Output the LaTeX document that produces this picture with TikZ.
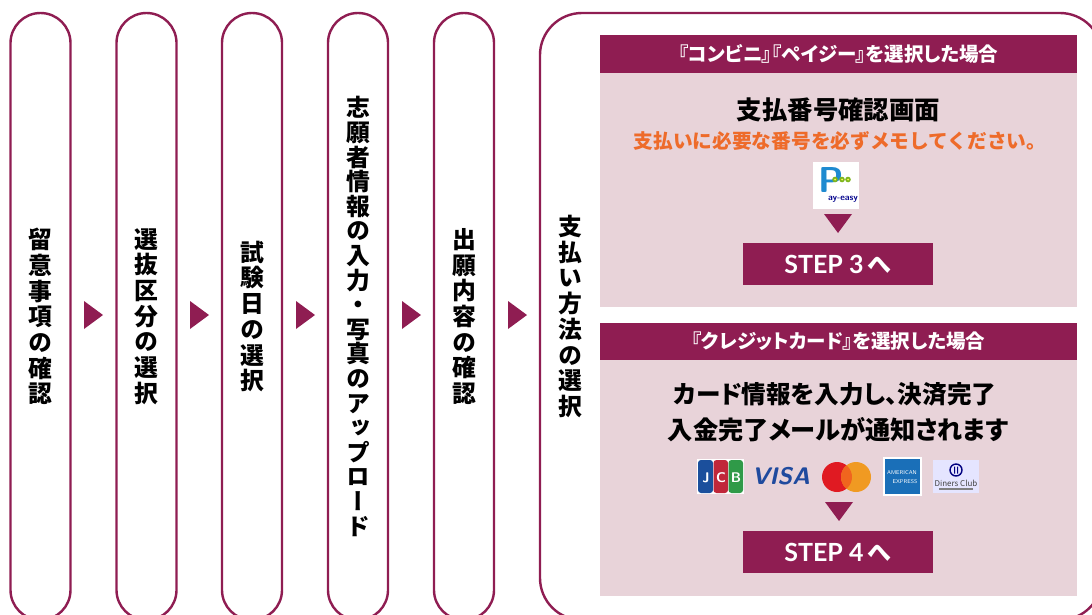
\documentclass[tikz,border=0pt]{standalone}
\usepackage{fontspec}
\setmainfont{Noto Sans CJK JP}
\newfontfamily\vfont[RawFeature={+vert}]{Noto Sans CJK JP}
\newfontfamily\pfont[RawFeature={+palt}]{Noto Sans CJK JP}
\newfontfamily\latofont{Lato}
\definecolor{wine}{HTML}{8F1D52}
\definecolor{blush}{HTML}{E8D3D9}
\definecolor{tangerine}{HTML}{EE6B2A}
\definecolor{visablue}{HTML}{1F4A9E}
\definecolor{amexblue}{HTML}{1A6FB8}
\definecolor{mcred}{HTML}{E01A22}
\definecolor{mcorange}{HTML}{F09A22}
\definecolor{mcmix}{HTML}{F0651E}
\definecolor{jcbblue}{HTML}{1B4F9C}
\definecolor{jcbred}{HTML}{C0273A}
\definecolor{jcbgreen}{HTML}{2F9A48}
\definecolor{peblue}{HTML}{1E8AD0}
\definecolor{pegreen}{HTML}{7DB51E}
\newcommand{\stackfont}[1]{\fontsize{23.8}{#1}\selectfont\vfont\bfseries}
\tikzset{
 x=1pt,y=-1pt,
 pill/.style={draw=wine,line width=2.4pt,fill=white,rounded corners=30pt,minimum width=60pt,minimum height=607pt,inner sep=0pt,align=center,anchor=center,font=\stackfont{25.7}},
 flowarrow/.style={fill=wine},
 head/.style={fill=wine,text=white,minimum width=477pt,inner sep=0pt,font=\fontsize{19.5}{19.5}\selectfont\pfont\bfseries},
 body/.style={fill=blush,minimum width=477pt,inner sep=0pt},
 stepbtn/.style={fill=wine,text=white,minimum width=190pt,minimum height=42pt,inner sep=0pt},
 title/.style={font=\fontsize{25.2}{25.2}\selectfont\pfont\bfseries,text=black,inner sep=0pt},
 jcbtext/.style={text=white,font=\fontsize{14}{14}\selectfont\bfseries\sffamily,inner sep=0pt},
 amextext/.style={text=white,font=\fontsize{5.5}{5.5}\selectfont\sffamily,inner sep=0pt},
}
\newcommand{\steplabel}[1]{{\fontsize{25}{25}\selectfont\latofont\bfseries STEP #1\,{\rmfamily\bfseries\fontsize{24}{24}\selectfont へ}}}
\begin{document}
\begin{tikzpicture}
\clip (0,0) rectangle (1092,614);
\node[pill] (c1) at (40.5,316.5) {留\\意\\事\\項\\の\\確\\認};
\node[pill] (c2) at (146.5,316.5) {選\\抜\\区\\分\\の\\選\\択};
\node[pill] (c3) at (252,316.5) {試\\験\\日\\の\\選\\択};
\node[pill,font=\stackfont{24.6}] (c4) at (358,316.5) {志\\願\\者\\情\\報\\の\\入\\力\\・\\写\\真\\の\\ア\\ッ\\プ\\ロ\\ー\\ド};
\node[pill] (c5) at (464,316.5) {出\\願\\内\\容\\の\\確\\認};
\node[pill,minimum width=562pt,rounded corners=42pt] (c6) at (821,316.5) {};
\node[font=\stackfont{25.7},align=center,inner sep=0pt] (c6t) at (570,316.5) {支\\払\\い\\方\\法\\の\\選\\択};
\foreach \a in {84,190,296,402,508}{
 \fill[flowarrow] (\a,301) -- (\a+19,315) -- (\a,329) -- cycle;
}
% upper panel
\node[body,minimum height=272pt] (b1) at (838.5,171) {};
\node[head,minimum height=38pt] (h1) at (838.5,54) {『コンビニ』『ペイジー』を選択した場合};
\node[title,font=\fontsize{25.4}{25.4}\selectfont\bfseries] (t1) at (838.5,110) {支払番号確認画面};
\node[font=\fontsize{19.7}{19.7}\selectfont\bfseries,text=tangerine,inner sep=0pt] (t2) at (840,141) {支払いに必要な番号を必ずメモしてください。};
% Pay-easy logo
\fill[white] (813,162) rectangle (859,209);
\node[text=peblue,font=\fontsize{36}{36}\selectfont\bfseries\sffamily,inner sep=0pt,anchor=west] (pe1) at (818,180) {P};
\fill[pegreen] (835,179.5) circle (2.8) (842,179.5) circle (2.8) (848,179.5) circle (2.8);
\fill[yellow!70!white] (835,179.5) circle (1) (842,179.5) circle (1) (848,179.5) circle (1);
\node[text=blue!55!black,font=\fontsize{9}{9}\selectfont\bfseries\sffamily,inner sep=0pt] (pe2) at (843,199) {ay-easy};
\fill[wine] (824,214) -- (852,214) -- (838,233) -- cycle;
\node[stepbtn] (s1) at (838,264) {\steplabel{3}};
% lower panel
\node[body,minimum height=273pt] (b2) at (838.5,459.5) {};
\node[head,minimum height=37pt] (h2) at (838.5,341.5) {『クレジットカード』を選択した場合};
\node[title,font=\fontsize{24.6}{24.6}\selectfont\pfont\bfseries] (t3) at (835,394.5) {カード情報を入力し、決済完了};
\node[title] (t4) at (838,430) {入金完了メールが通知されます};
% JCB
\fill[white] (697,459) rectangle (744,494);
\fill[jcbblue,rounded corners=3pt] (698,460) rectangle (713,493);
\fill[jcbred,rounded corners=3pt] (713.5,460) rectangle (728,493);
\fill[jcbgreen,rounded corners=3pt] (728.5,460) rectangle (743,493);
\node[jcbtext] (j1) at (706,478) {J};
\node[jcbtext] (j2) at (721,478) {C};
\node[jcbtext] (j3) at (736,478) {B};
% VISA
\node[text=visablue,font=\fontsize{24}{24}\selectfont\bfseries\itshape\sffamily,inner sep=0pt] (v) at (781,476.5) {VISA};
% Mastercard
\fill[mcred] (837,477) circle (15);
\fill[mcorange] (856,477) circle (15);
\begin{scope}
\clip (837,477) circle (15);
\fill[mcmix] (856,477) circle (15);
\end{scope}
% Amex
\fill[white] (883,457) rectangle (922,496);
\fill[amexblue] (885,459) rectangle (920,494);
\node[amextext] (a1) at (902,473) {AMERICAN};
\node[amextext] (a2) at (905,482) {EXPRESS};
% Diners
\fill[white!90!blue] (933,460) rectangle (979,493);
\draw[blue!50!black,line width=1.4pt] (956,470) circle (6);
\fill[blue!50!black] (954,466.5) rectangle (955,473.5) (957,466.5) rectangle (958,473.5);
\node[text=black!75,font=\fontsize{8}{8}\selectfont\rmfamily,inner sep=0pt] (d1) at (956,483) {Diners Club};
\fill[black!50] (939,488) rectangle (973,490);
\fill[wine] (825,502) -- (853,502) -- (839,521) -- cycle;
\node[stepbtn] (s2) at (838,552) {\steplabel{4}};
\end{tikzpicture}
\end{document}
